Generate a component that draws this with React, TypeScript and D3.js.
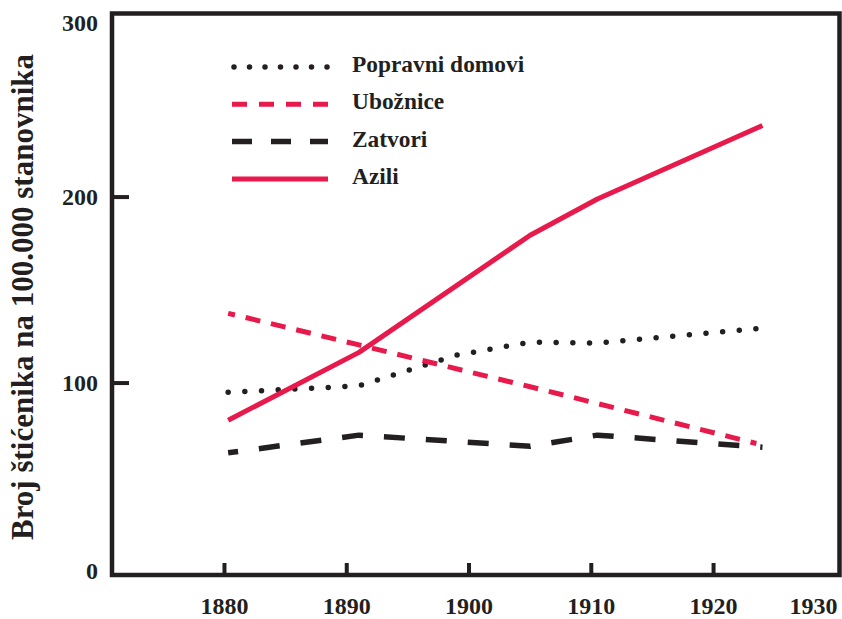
import * as d3 from "d3";

// x positions are census years
const popravniYears = [1880.3, 1891, 1899, 1905, 1910.5, 1924];
const popravniValues = [95, 98.5, 115, 122, 121.5, 129.5];

const ubozniceYears = [1880.3, 1891, 1905, 1910.5, 1923.5];
const ubozniceValues = [137.5, 120.5, 98, 89, 67.5];

const zatvoriYears = [1880.3, 1891, 1905, 1910.5, 1924];
const zatvoriValues = [62.5, 72, 66, 72, 65.5];

const aziliYears = [1880.3, 1891, 1905, 1910.5, 1924];
const aziliValues = [80, 116.5, 179.5, 199, 238.5];

const xTicks = [1880, 1890, 1900, 1910, 1920, 1930];
const yTicks = [0, 100, 200, 300];

const legendLabels = ["Popravni domovi", "Ubožnice", "Zatvori", "Azili"];

const RED = "#e8194b";
const BLACK = "#231f20";
const txt = { fontFamily: "Liberation Serif" };

const styles = [
  { color: BLACK, dash: "0 16.7", offset: 0, cap: "round", width: 5.5 },
  { color: RED, dash: "15 11", offset: 8, cap: "butt", width: 5 },
  { color: BLACK, dash: "21 21", offset: 11, cap: "butt", width: 5.5 },
  { color: RED, dash: "none", offset: 0, cap: "butt", width: 5 },
];
const legendDash = ["0 15.5", "15 12", "20 19", "none"];

export default function App() {
  const width = 842;
  const height = 619;
  const frame = { left: 112, right: 839.5, top: 13.5, bottom: 575 };

  const x = d3.scaleLinear().domain([1870.8, 1930.3]).range([frame.left, frame.right]);
  const y = d3.scaleLinear().domain([-3.2, 298.7]).range([frame.bottom, frame.top]);

  const line = d3
    .line<[number, number]>()
    .x((d) => x(d[0]))
    .y((d) => y(d[1]));

  const series = [
    d3.zip(popravniYears, popravniValues) as [number, number][],
    d3.zip(ubozniceYears, ubozniceValues) as [number, number][],
    d3.zip(zatvoriYears, zatvoriValues) as [number, number][],
    d3.zip(aziliYears, aziliValues) as [number, number][],
  ];

  const legendX0 = 232;
  const legendX1 = 328;
  const legendY0 = 67;
  const legendStep = 37.3;

  const yLabelY = (t: number) => (t === 300 ? 31 : t === 0 ? 579 : y(t) + 8);

  return (
    <svg width={width} height={height} style={{ position: "absolute", left: 0, top: 0, background: "#fff" }}>
      {/* data lines */}
      {series.map((pts, i) => (
        <path
          key={i}
          d={line(pts) ?? ""}
          fill="none"
          stroke={styles[i].color}
          strokeWidth={styles[i].width}
          strokeDasharray={styles[i].dash}
          strokeDashoffset={styles[i].offset}
          strokeLinecap={styles[i].cap as any}
          strokeLinejoin="round"
        />
      ))}

      {/* frame */}
      <rect
        x={frame.left}
        y={frame.top}
        width={frame.right - frame.left}
        height={frame.bottom - frame.top}
        fill="none"
        stroke={BLACK}
        strokeWidth={4.5}
      />

      {/* x ticks (inside) */}
      {xTicks.slice(0, -1).map((t) => (
        <line key={t} x1={x(t)} x2={x(t)} y1={frame.bottom} y2={frame.bottom - 12} stroke={BLACK} strokeWidth={4} />
      ))}
      {xTicks.map((t, i) => (
        <text
          key={t}
          x={i === xTicks.length - 1 ? frame.right - 2 : x(t)}
          y={614}
          textAnchor={i === xTicks.length - 1 ? "end" : "middle"}
          fontSize={24}
          fontWeight="bold"
          fill={BLACK}
          style={txt}
        >
          {t}
        </text>
      ))}

      {/* y ticks (inside) */}
      {yTicks.slice(1, -1).map((t) => (
        <line key={t} x1={frame.left} x2={frame.left + 17} y1={y(t)} y2={y(t)} stroke={BLACK} strokeWidth={4} />
      ))}
      {yTicks.map((t) => (
        <text key={t} x={98} y={yLabelY(t)} textAnchor="end" fontSize={24} fontWeight="bold" fill={BLACK} style={txt}>
          {t}
        </text>
      ))}

      {/* y title */}
      <text
        transform="translate(33,297) rotate(-90)"
        textAnchor="middle"
        fontSize={31}
        fontWeight="bold"
        fill={BLACK}
        style={txt}
      >
        Broj štićenika na 100.000 stanovnika
      </text>

      {/* legend */}
      {legendLabels.map((label, i) => {
        const ly = legendY0 + i * legendStep;
        return (
          <g key={label}>
            <line
              x1={legendX0 + (i === 0 ? 2 : 0)}
              x2={legendX1}
              y1={ly}
              y2={ly}
              stroke={styles[i].color}
              strokeWidth={styles[i].width}
              strokeDasharray={legendDash[i]}
              strokeLinecap={styles[i].cap as any}
            />
            <text x={352} y={ly + 5} fontSize={23.4} fontWeight="bold" fill={BLACK} style={txt}>
              {label}
            </text>
          </g>
        );
      })}
    </svg>
  );
}
